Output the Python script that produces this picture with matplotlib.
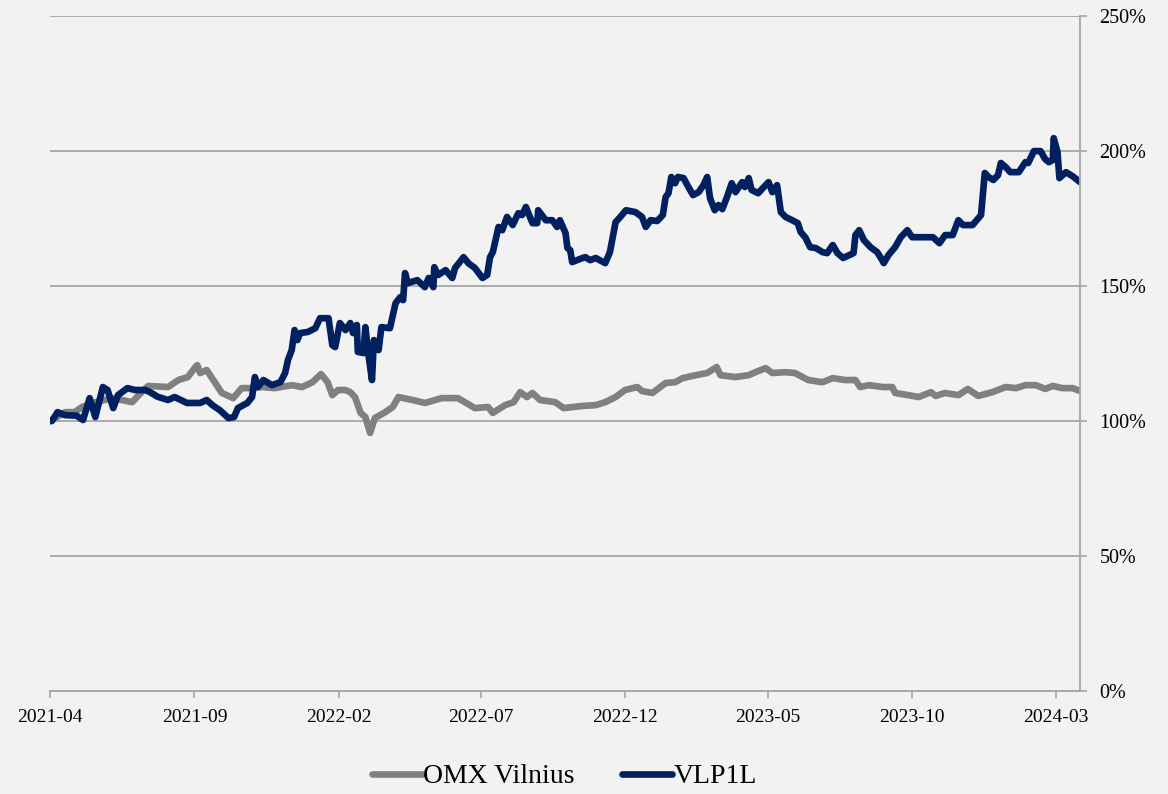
import pandas as pd
import matplotlib
matplotlib.use("Agg")
import matplotlib.pyplot as plt
import matplotlib.dates as mdates
from matplotlib.ticker import PercentFormatter, MultipleLocator

plt.rcParams['font.family'] = ['Liberation Serif', 'DejaVu Serif']

# values, x given as days since the start date
start = pd.Timestamp("2021-04-01")

vlp_days = [0, 2, 8, 16, 28, 35, 42, 48, 56, 61, 67, 72, 82, 90, 101, 106, 114, 125, 132, 145,
            159, 166, 172, 180, 189, 195, 199, 209, 214, 217, 220, 226, 235, 244, 249, 252, 256,
            259, 262, 265, 273, 281, 286, 295, 299, 302, 307, 313, 318, 321, 325, 326, 332, 334,
            337, 341, 343, 348, 351, 360, 366, 371, 374, 376, 379, 389, 397, 401, 406, 407, 411,
            419, 426, 429, 438, 443, 450, 458, 463, 466, 469, 475, 479, 484, 490, 496, 500, 504,
            511, 516, 517, 525, 532, 537, 540, 546, 548, 551, 553, 564, 567, 572, 578, 588, 593,
            599, 604, 610, 620, 627, 631, 636, 643, 649, 652, 655, 658, 662, 665, 671, 675, 681,
            687, 692, 696, 699, 704, 708, 712, 717, 722, 726, 733, 736, 740, 743, 750, 756, 761,
            765, 770, 774, 779, 786, 792, 795, 800, 805, 811, 818, 823, 829, 834, 840, 851, 853,
            857, 862, 869, 876, 880, 883, 888, 895, 901, 908, 913, 924, 935, 942, 948, 956, 962,
            967, 977, 986, 990, 994, 999, 1004, 1007, 1012, 1017, 1026, 1033, 1036, 1042, 1049,
            1054, 1058, 1062, 1063, 1067, 1069, 1076, 1083, 1091]
vlp_vals = [100, 100, 103.3, 102.2, 102, 100.4, 108.5, 101.5, 112.6, 111.5, 104.8, 109.6, 112.2,
            111.5, 111.5, 110.7, 109, 107.8, 108.9, 106.7, 106.7, 107.8, 105.9, 104, 101.1, 101.5,
            104.8, 106.7, 108.9, 116.3, 112.6, 115.2, 113.3, 114.4, 117.8, 122.6, 126.3, 133.7,
            130, 132.6, 133, 134.4, 138.1, 138.1, 128.1, 127.4, 136.3, 133.7, 136.3, 132.6, 135.6,
            125.6, 125.2, 134.8, 125.2, 115.2, 130, 126.3, 134.8, 134.4, 143.7, 145.9, 144.8,
            154.8, 151.1, 152.2, 149.6, 153, 149.6, 157, 154.1, 155.9, 153, 156.7, 160.7, 158.5,
            156.7, 153, 154.1, 160.7, 162.6, 171.9, 170.7, 175.6, 172.6, 177, 176.3, 179.3, 173.3,
            173.3, 178.1, 174.4, 174.4, 171.9, 174.4, 169.6, 164.1, 163.3, 158.9, 160.4, 160.7,
            159.6, 160.4, 158.5, 162.6, 173.7, 175.6, 178.1, 177.4, 175.6, 171.9, 174.4, 174.1,
            176.3, 183, 184.4, 190.4, 188.1, 190.4, 190, 187.4, 183.7, 184.8, 187.4, 190.4, 182.6,
            178.1, 180, 178.5, 183, 188.1, 184.8, 188.5, 186.7, 190, 185.6, 184.4, 186.7, 188.5,
            184.8, 187.4, 177.4, 175.6, 174.4, 173.3, 170, 168, 164.4, 164.1, 162.6, 162.2, 165.2,
            162.2, 160.4, 162.2, 168.9, 170.7, 167, 164.4, 162.6, 160.4, 158.5, 161.5, 164.4,
            168.1, 170.7, 168.1, 168.1, 168.1, 165.9, 168.9, 168.9, 174.4, 172.6, 172.6, 176.3,
            191.9, 190.4, 189.3, 191.1, 195.6, 194.1, 192.2, 192.2, 195.9, 195.6, 200, 200, 197,
            195.9, 196.7, 204.8, 199.6, 190, 192.2, 190.7, 188.5]

omx_days = [0, 16, 26, 34, 45, 66, 76, 87, 97, 104, 125, 136, 146, 154, 156, 159, 166, 175, 182,
            194, 203, 214, 225, 238, 256, 267, 278, 287, 294, 299, 305, 313, 318, 323, 329, 334,
            339, 344, 355, 363, 369, 384, 397, 415, 432, 450, 464, 469, 477, 482, 491, 498, 505,
            511, 519, 535, 544, 564, 578, 588, 599, 609, 622, 627, 638, 652, 662, 670, 684, 696,
            706, 710, 726, 740, 747, 758, 765, 779, 789, 803, 818, 829, 842, 853, 858, 867, 882,
            892, 895, 909, 920, 933, 938, 948, 962, 972, 983, 998, 1012, 1023, 1033, 1044, 1054,
            1062, 1072, 1083, 1091]
omx_vals = [100, 103.3, 103.3, 105.2, 106.7, 108.5, 107.8, 107, 110.7, 113, 112.6, 115.2, 116.3,
            120, 120.7, 117.8, 118.9, 114.1, 110.4, 108.5, 112.2, 112.2, 112.6, 112.2, 113.3,
            112.6, 114.4, 117.4, 114.4, 109.6, 111.5, 111.5, 110.7, 108.9, 103, 101.5, 95.6,
            101.1, 103.3, 105.2, 108.9, 107.8, 106.7, 108.5, 108.5, 104.8, 105.2, 103, 104.8,
            105.9, 107, 110.7, 108.9, 110.4, 107.8, 107, 104.8, 105.6, 105.9, 107, 108.9, 111.5,
            112.6, 111.1, 110.4, 114.1, 114.4, 115.9, 117, 117.8, 120, 117, 116.3, 117, 118.1,
            119.6, 117.8, 118.1, 117.8, 115.2, 114.4, 115.9, 115.2, 115.2, 112.6, 113.3, 112.6,
            112.6, 110.4, 109.6, 108.9, 110.7, 109.3, 110.4, 109.6, 111.9, 109.3, 110.7, 112.6,
            112.2, 113.3, 113.3, 111.9, 113, 112.2, 112.2, 111.1]

tick_dates = ["2021-04-01", "2021-09-01", "2022-02-01", "2022-07-01", "2022-12-01",
              "2023-05-01", "2023-10-01", "2024-03-01"]

bg = '#f2f2f2'
grid_col = '#a6a6a6'

vlp_x = start + pd.to_timedelta(vlp_days, unit='D')
omx_x = start + pd.to_timedelta(omx_days, unit='D')

fig = plt.figure(figsize=(11.68, 7.94), dpi=100, facecolor=bg)
ax = fig.add_axes([0.0428, 0.1297, 0.882, 0.850])
ax.set_facecolor(bg)

ax.plot(omx_x, omx_vals, color='#808080', lw=4.8, label='OMX Vilnius', solid_capstyle='round')
ax.plot(vlp_x, vlp_vals, color='#002060', lw=4.8, label='VLP1L', solid_capstyle='round')

ax.set_ylim(0, 250)
ax.set_xlim(start, pd.Timestamp("2024-03-27"))
ax.yaxis.set_major_locator(MultipleLocator(50))
ax.yaxis.set_major_formatter(PercentFormatter(decimals=0))
ax.yaxis.tick_right()
ax.grid(axis='y', color=grid_col, lw=1.3)
ax.set_axisbelow(True)

ax.set_xticks(pd.to_datetime(tick_dates))
ax.xaxis.set_major_formatter(mdates.DateFormatter('%Y-%m'))

for s in ['top', 'left']:
    ax.spines[s].set_visible(False)
for s in ['bottom', 'right']:
    ax.spines[s].set_color(grid_col)
    ax.spines[s].set_linewidth(1.3)

ax.tick_params(axis='both', colors=grid_col, labelcolor='black', labelsize=14,
               length=5, width=1.2, direction='out')
ax.tick_params(axis='x', pad=8)
ax.tick_params(axis='y', labelsize=14.5, pad=9)

fig.legend(loc='center', bbox_to_anchor=(0.483, 0.022), ncol=2, frameon=False,
           fontsize=20, handlelength=1.8, handletextpad=0.05, columnspacing=1.7)

fig.savefig('out.png', dpi=100, facecolor=bg)
